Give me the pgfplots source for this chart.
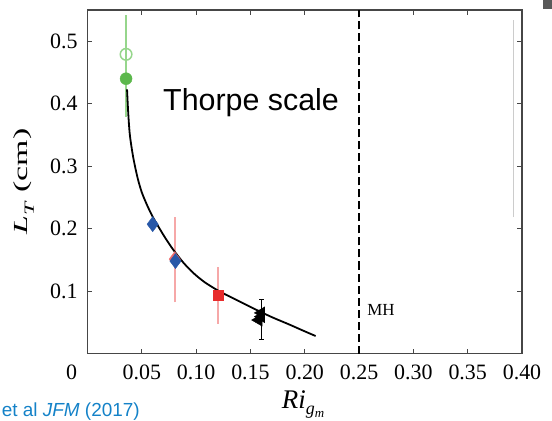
\documentclass[border=0pt]{standalone}
\usepackage{fontspec}
\setmainfont{Liberation Serif}
\newfontfamily\arialf{Liberation Sans}
\usepackage{graphicx}
\usepackage{pgfplots}
\pgfplotsset{compat=1.18}
\definecolor{greenD}{RGB}{92,184,76}
\definecolor{greenL}{RGB}{150,214,140}
\definecolor{blueD}{RGB}{40,88,168}
\definecolor{redD}{RGB}{232,44,44}
\definecolor{redL}{RGB}{246,168,168}
\definecolor{blueT}{RGB}{20,130,200}
\definecolor{axgray}{RGB}{70,70,70}
\begin{document}
\begin{tikzpicture}
\begin{axis}[
  scale only axis,
  width=434.5bp, height=343.5bp,
  xmin=0, xmax=0.4, ymin=0, ymax=0.55,
  axis line style={axgray, line width=1.3bp},
  tick style={axgray, line width=1bp},
  tick align=inside,
  major tick length=5bp,
  xtick={0,0.05,0.1,0.15,0.2,0.25,0.3,0.35,0.4},
  xticklabels={\makebox[0pt][r]{0\hspace{10.5bp}},0.05,0.10,0.15,0.20,0.25,0.30,0.35,0.40},
  ytick={0.1,0.2,0.3,0.4,0.5},
  yticklabels={0.1,0.2,0.3,0.4,0.5},
  tick label style={font=\fontsize{22}{24}\selectfont},
  yticklabel style={inner sep=0pt, xshift=-9.8bp},
  xticklabel style={inner sep=0pt, yshift=-11bp},
  xlabel={\fontsize{27}{30}\selectfont\textit{Ri}\raisebox{-0.25em}{\fontsize{18}{20}\selectfont\textit{g}\raisebox{-0.15em}{\fontsize{13}{14}\selectfont\textit{m}}}},
  xlabel style={at={(axis description cs:0.447,-0.1587)}, anchor=base west, inner sep=0pt},
  ylabel={\scalebox{1.7}[1]{\fontsize{20}{22}\selectfont\textit{L}\raisebox{-0.3em}{\fontsize{14}{16}\selectfont\textit{T}} (cm)}},
  ylabel style={at={(axis description cs:-0.146,0.5007)}, anchor=center, inner sep=0pt},
  clip=false,
]
% error bars
\addplot[greenL, line width=1.6bp] coordinates {(0.0354,0.379) (0.0354,0.5416)};
\addplot[redL, line width=2bp] coordinates {(0.081,0.082) (0.081,0.219)};
\addplot[redL, line width=2bp] coordinates {(0.120,0.048) (0.120,0.139)};
\addplot[black, line width=0.9bp] coordinates {(0.1604,0.023) (0.1604,0.087)};
\addplot[black, line width=0.9bp] coordinates {(0.1580,0.087) (0.1628,0.087)};
\addplot[black, line width=0.9bp] coordinates {(0.1580,0.023) (0.1628,0.023)};
% markers
\addplot[only marks, mark=o, mark size=5.8bp, greenL, mark options={line width=1.5bp}] coordinates {(0.0355,0.479)};
\addplot[only marks, mark=*, mark size=6bp, greenD] coordinates {(0.0355,0.440)};
\addplot[only marks, mark=diamond*, mark size=7.5bp, blueD] coordinates {(0.060,0.207)};
\addplot[only marks, mark=diamond*, mark size=7.5bp, redD!70] coordinates {(0.0803,0.151)};
\addplot[only marks, mark=diamond*, mark size=7.5bp, blueD] coordinates {(0.0810,0.148)};
\addplot[only marks, mark=square*, mark size=5bp, redD] coordinates {(0.120,0.0936)};
\addplot[only marks, mark=triangle*, mark size=7bp, black, mark options={rotate=90}] coordinates {(0.1600,0.065) (0.1600,0.059) (0.1575,0.0536)};
% fitted curve
\addplot[black, line width=1.8bp, smooth] table {
x y
0.0364 0.423
0.0375 0.385
0.0390 0.350
0.0420 0.315
0.0460 0.282
0.0500 0.258
0.0550 0.237
0.0600 0.219
0.0660 0.201
0.0720 0.184
0.0790 0.166
0.0880 0.146
0.0974 0.129
0.1080 0.114
0.1220 0.099
0.1370 0.086
0.1530 0.072
0.1700 0.058
0.1850 0.047
0.1980 0.037
0.2100 0.028
};
% MH line
\addplot[black, line width=2bp, dash pattern=on 8bp off 4bp] coordinates {(0.25,0) (0.25,0.55)};
\node[anchor=base west, inner sep=0pt, font=\fontsize{17}{19}\selectfont] at (axis cs:0.2574,0.0616) {MH};
\node[anchor=base west, inner sep=0pt, font=\arialf\fontsize{30.5}{33}\selectfont] at (axis cs:0.0695,0.3896) {Thorpe scale};
\draw[gray!40, line width=0.6bp] (axis cs:0.3918,0.2184) -- (axis cs:0.3918,0.5336);
\end{axis}
\fill[gray!70!black] (455.5bp,344.5bp) rectangle (464.5bp,353.5bp);
\node[anchor=base west, inner sep=0pt, text=blueT, font=\arialf\fontsize{19}{21}\selectfont] at (-85.8bp,-62.5bp) {et al \textit{JFM} (2017)};
\pgfresetboundingbox
\useasboundingbox (-87.5bp,-67.5bp) rectangle (464.5bp,353.5bp);
\end{tikzpicture}
\end{document}
